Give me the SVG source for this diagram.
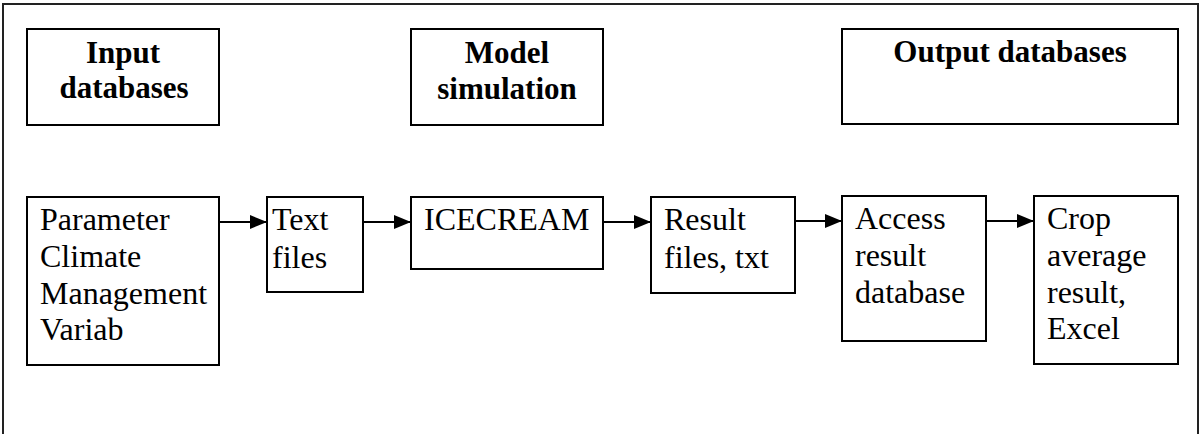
<svg xmlns="http://www.w3.org/2000/svg" width="1204" height="434" viewBox="0 0 1204 434">
<style>
.box{fill:#fff;stroke:#000;stroke-width:2}
.frame{fill:none;stroke:#222;stroke-width:2}
.h{font-family:"Liberation Serif","Times New Roman",serif;font-weight:bold;font-size:31px;text-anchor:middle;fill:#000}
.t{font-family:"Liberation Serif","Times New Roman",serif;font-size:32px;fill:#000}
.conn{stroke:#000;stroke-width:2;fill:none;marker-end:url(#arr)}
</style>
<defs>
<marker id="arr" markerUnits="userSpaceOnUse" markerWidth="17" markerHeight="14" refX="17" refY="7" orient="auto">
<path d="M0,0 L17,7 L0,14 Z" fill="#000"/>
</marker>
</defs>
<rect x="0" y="0" width="1204" height="434" fill="#fff"/>
<path class="frame" d="M3,436 L3,4 L1198,4 L1198,436"/>
<g id="input-databases">
<rect class="box" x="27" y="29" width="192" height="96"/>
<text class="h" x="123" y="63">Input</text>
<text class="h" x="124" y="98">databases</text>
</g>
<g id="model-simulation">
<rect class="box" x="411" y="29" width="192" height="96"/>
<text class="h" x="507" y="63">Model</text>
<text class="h" x="507" y="99">simulation</text>
</g>
<g id="output-databases">
<rect class="box" x="842" y="29" width="336" height="95"/>
<text class="h" x="1010" y="62">Output databases</text>
</g>
<g id="parameters">
<rect class="box" x="27" y="197" width="192" height="168"/>
<text class="t" x="40" y="230">Parameter</text>
<text class="t" x="40" y="267">Climate</text>
<text class="t" x="40" y="304">Management</text>
<text class="t" x="40" y="340">Variab</text>
</g>
<g id="text-files">
<rect class="box" x="267" y="197" width="96" height="95"/>
<text class="t" x="272" y="230">Text</text>
<text class="t" x="272" y="268">files</text>
</g>
<g id="icecream">
<rect class="box" x="411" y="197" width="192" height="72"/>
<text class="t" x="424" y="230">ICECREAM</text>
</g>
<g id="result-files">
<rect class="box" x="651" y="197" width="144" height="96"/>
<text class="t" x="664" y="230">Result</text>
<text class="t" x="664" y="268">files, txt</text>
</g>
<g id="access-db">
<rect class="box" x="842" y="196" width="144" height="145"/>
<text class="t" x="855" y="229">Access</text>
<text class="t" x="855" y="266">result</text>
<text class="t" x="855" y="303">database</text>
</g>
<g id="crop-average">
<rect class="box" x="1034" y="196" width="144" height="168"/>
<text class="t" x="1047" y="229">Crop</text>
<text class="t" x="1047" y="266">average</text>
<text class="t" x="1047" y="303">result,</text>
<text class="t" x="1047" y="339">Excel</text>
</g>
<g id="connectors">
<line class="conn" x1="219" y1="222" x2="267" y2="222"/>
<line class="conn" x1="363" y1="222" x2="411" y2="222"/>
<line class="conn" x1="603" y1="222" x2="651" y2="222"/>
<line class="conn" x1="795" y1="221" x2="842" y2="221"/>
<line class="conn" x1="986" y1="221" x2="1034" y2="221"/>
</g>
</svg>
